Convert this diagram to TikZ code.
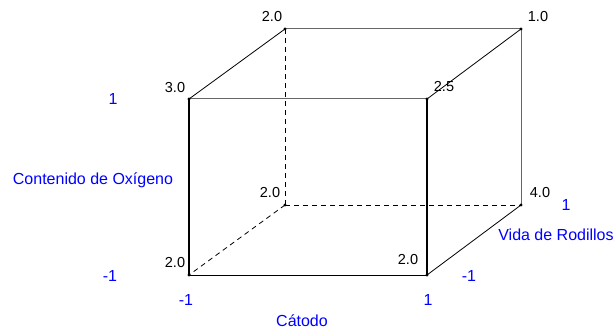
\documentclass[tikz,border=0pt]{standalone}
\usepackage{fontspec}
\setmainfont{Liberation Sans}
\begin{document}
\begin{tikzpicture}[x=1pt,y=-1pt,
  val/.style={font=\fontsize{14.5}{17}\selectfont, text=black, inner sep=0pt},
  axl/.style={font=\fontsize{16}{19}\selectfont, text=blue, inner sep=0pt},
  vdot/.style={fill=black, draw=none},
  thinedge/.style={line width=0.8pt, black},
  grayedge/.style={line width=1pt, black!60},
  hidden/.style={line width=0.8pt, black, dash pattern=on 5pt off 4pt}]
\useasboundingbox (0,0) rectangle (616,331);
% vertices
\coordinate (FBL) at (189,275);
\coordinate (FTL) at (189,99);
\coordinate (FTR) at (427,99);
\coordinate (FBR) at (427,275);
\coordinate (BBL) at (285,205);
\coordinate (BTL) at (285,29);
\coordinate (BTR) at (521,29);
\coordinate (BBR) at (521,205);
% hidden edges
\draw[hidden] (BBL) -- (BTL);
\draw[hidden] (BBL) -- (BBR);
\draw[hidden] (BBL) -- (FBL);
% back edges
\draw[grayedge] (BTL) -- (BTR);
\draw[grayedge] (BTR) -- (BBR);
\draw[grayedge] (FTL) -- (FTR);
% diagonals
\draw[thinedge] (FTL) -- (BTL);
\draw[thinedge] (FTR) -- (BTR);
\draw[thinedge] (FBR) -- (BBR);
% front face
\draw[line width=0.9pt] (FBL) -- (FBR);
\draw[line width=1.8pt] (FBL) -- (FTL);
\draw[line width=1.4pt] (FBR) -- (FTR);
% dots
\foreach \p in {FBL,FTL,FTR,FBR,BBL,BTL,BTR,BBR} \fill[vdot] (\p) circle (1.6);
% values
\node[val] (v1) at (272,17) {2.0};
\node[val] (v2) at (538,17) {1.0};
\node[val] (v3) at (175,88) {3.0};
\node[val] (v4) at (444,87) {2.5};
\node[val] (v5) at (270,193) {2.0};
\node[val] (v6) at (540,193) {4.0};
\node[val] (v7) at (175,263) {2.0};
\node[val] (v8) at (408,260) {2.0};
% axis labels
\node[axl] (a1) at (113,99) {1};
\node[axl] (a2) at (93,180) {Contenido de Oxígeno};
\node[axl] (a3) at (110,276) {-1};
\node[axl] (a4) at (186,300) {-1};
\node[axl] (a5) at (428,300) {1};
\node[axl] (a6) at (302,321) {Cátodo};
\node[axl] (a7) at (566,205) {1};
\node[axl] (a8) at (556,235) {Vida de Rodillos};
\node[axl] (a9) at (469,276) {-1};
\end{tikzpicture}
\end{document}
